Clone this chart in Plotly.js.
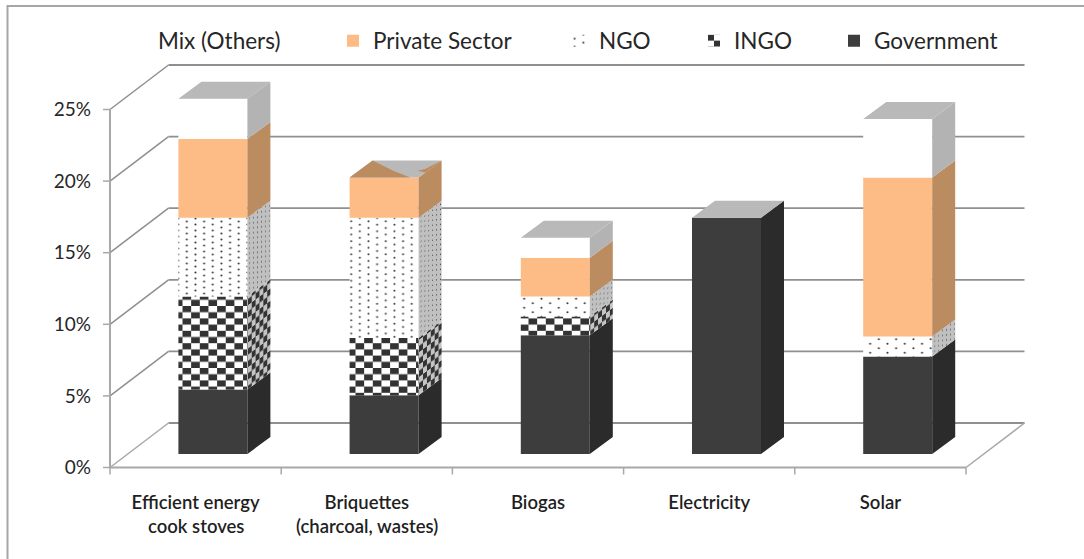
<!DOCTYPE html>
<html>
<head>
<meta charset="utf-8">
<script src="https://cdn.plot.ly/plotly-3.0.1.min.js"></script>
<style>html,body{margin:0;padding:0;background:#fff}</style>
</head>
<body>
<div id="chart" style="width:1084px;height:559px"></div>
<script>
// Stacked shares (%) per technology, bottom segment first.
const labelLine1 = ['Efficient energy', 'Briquettes', 'Biogas', 'Electricity', 'Solar'];
const labelLine2 = ['cook stoves', '(charcoal, wastes)', '', '', ''];
const government = [4.5, 4.1, 8.3, 16.5, 6.8];
const ingo       = [6.5, 4.0, 1.3, 0, 0];
const ngo        = [5.5, 8.4, 1.4, 0, 1.4];
const privateSec = [5.5, 2.8, 2.7, 0, 11.1];
const mixOthers  = [2.8, 0, 1.4, 0, 4.1];
const yTicks = [0, 5, 10, 15, 20, 25];
const yTickText = ['0%', '5%', '10%', '15%', '20%', '25%'];

// Scales of the plot area.
const W = 1084, H = 559;
const pxPerCat = 171.2, pxPerPct = 14.32;
const plotL = 96, plotR = 1032, plotT = 58, plotB = 482;
const zeroX = 110, zeroY = 467.5;
const xr = [-0.5 - (zeroX - plotL) / pxPerCat, -0.5 + (plotR - zeroX) / pxPerCat];
const yr = [-(plotB - zeroY) / pxPerPct, (zeroY - plotT) / pxPerPct];
const px = n => n / pxPerCat, pct = n => n / pxPerPct;

// Oblique projection used for the depth of the walls and the columns.
const wallDx = px(58.5), wallDy = pct(44.5);
const barShiftX = px(17.3), barShiftY = pct(13.5);
const barDepthX = px(23), barDepthY = pct(17);
const barWidth = px(69);
const cats = labelLine1.map((_, i) => i);
const catEnd = cats.length - 0.5;

// Pattern sizes tell the front fills from the side-face fills when they are restyled below.
// NGO dots run tighter on the two tallest NGO segments.
const frontSize = 10, sideSize = 11;
const ngoDotPitch = [6, 6.6, 9, 9, 9];
const series = [
  {name: 'Government',     v: government, front: '#3d3d3d', side: '#2b2b2b', legend: 'legend5', lx: 834},
  {name: 'INGO',           v: ingo,       front: '#ffffff', side: '#c4c4c4', legend: 'legend4', lx: 694,
   pat: {shape: 'x', fgcolor: '#333333', size: frontSize}},
  {name: 'NGO',            v: ngo,        front: '#ffffff', side: '#c0c0c0', legend: 'legend3', lx: 559,
   pat: {shape: '.', fgcolor: '#3a3a3a', size: ngoDotPitch}},
  {name: 'Private Sector', v: privateSec, front: '#fdbb85', side: '#bb8c60', legend: 'legend2', lx: 333},
  {name: 'Mix (Others)',   v: mixOthers,  front: '#ffffff', side: '#b3b3b3', legend: 'legend',  lx: 118}
];

const traces = [];
const sides = [];
const running = cats.map(() => 0);
series.forEach(s => {
  const bases = running.map(r => r + barShiftY);
  traces.push({
    type: 'bar', name: s.name, legend: s.legend,
    x: cats.map(c => c + barShiftX), y: s.v, base: bases, width: barWidth,
    marker: {
      color: s.front, line: {width: 0},
      pattern: s.pat ? {shape: s.pat.shape, fgcolor: s.pat.fgcolor, bgcolor: '#ffffff', size: s.pat.size, solidity: 0.3} : {shape: ''}
    },
    hoverinfo: 'skip'
  });
  // Right-hand face of each segment.
  const xs = [], ys = [];
  cats.forEach(c => {
    if (s.v[c] <= 0) return;
    const xa = c + barShiftX + barWidth / 2, xb = xa + barDepthX;
    const y0 = bases[c], y1 = y0 + s.v[c];
    xs.push(xa, xb, xb, xa, xa, null);
    ys.push(y0, y0 + barDepthY, y1 + barDepthY, y1, y0, null);
  });
  const side = {
    type: 'scatter', mode: 'none', x: xs, y: ys, fill: 'toself', fillcolor: s.side,
    showlegend: false, hoverinfo: 'skip'
  };
  if (s.pat) side.fillpattern = {shape: s.pat.shape, fgcolor: s.pat.fgcolor, bgcolor: s.side, size: sideSize, solidity: 0.3};
  sides.push(side);
  cats.forEach(c => { running[c] += s.v[c]; });
});

// Point on a column's top face: u across the width, v into the depth.
const topPoint = (c, u, v) => [
  c + barShiftX - barWidth / 2 + u * barWidth + v * barDepthX,
  running[c] + barShiftY + v * barDepthY
];
const topFace = {xs: [], ys: []};
cats.forEach(c => {
  [[0, 0], [1, 0], [1, 1], [0, 1], [0, 0]].forEach(p => {
    const q = topPoint(c, p[0], p[1]);
    topFace.xs.push(q[0]); topFace.ys.push(q[1]);
  });
  topFace.xs.push(null); topFace.ys.push(null);
});
traces.push(...sides);
traces.push({type: 'scatter', mode: 'none', x: topFace.xs, y: topFace.ys, fill: 'toself',
  fillcolor: '#b9b9b9', showlegend: false, hoverinfo: 'skip'});

// The briquettes column has no mix segment, so its top shows the private-sector colour in part.
const patchFaces = [
  [[0, 0], [0.88, 0], [0.5, 0.4], [0, 1], [0, 0]],
  [[0.85, 0.4], [0.93, 0.5], [1, 1], [1, 0.3], [0.85, 0.4]]
];
const patch = {xs: [], ys: []};
patchFaces.forEach(face => {
  face.forEach(p => {
    const q = topPoint(1, p[0], p[1]);
    patch.xs.push(q[0]); patch.ys.push(q[1]);
  });
  patch.xs.push(null); patch.ys.push(null);
});
traces.push({type: 'scatter', mode: 'none', x: patch.xs, y: patch.ys, fill: 'toself',
  fillcolor: '#bb8c60', showlegend: false, hoverinfo: 'skip'});

// Walls, floor, axis lines and tick marks sit beneath every column.
const gridColor = '#8f8f8f', axisColor = '#a8a8a8';
const line = (x0, y0, x1, y1, color, width) => ({
  type: 'line', layer: 'below', xref: 'x', yref: 'y', x0, y0, x1, y1, line: {color, width}
});
const shapes = [];
yTicks.forEach(t => {
  if (t > 0) shapes.push(line(-0.5, t, -0.5 + wallDx, t + wallDy, gridColor, 1.5));
  shapes.push(line(-0.5 + wallDx, t + wallDy, catEnd + wallDx, t + wallDy, gridColor, 1.8));
  shapes.push(line(-0.5 - px(7), t, -0.5, t, axisColor, 1.5));
});
shapes.push(line(-0.5, 0, -0.5 + wallDx, wallDy, axisColor, 1.5));
shapes.push(line(catEnd, 0, catEnd + wallDx, wallDy, axisColor, 1.5));
shapes.push(line(-0.5, 0, -0.5, 25, axisColor, 2));
shapes.push(line(-0.5, 0, catEnd, 0, axisColor, 2));
for (let c = 0; c <= cats.length; c++) {
  shapes.push(line(c - 0.5, 0, c - 0.5, -pct(7), axisColor, 1.5));
}
// Outer frame of the chart; its right and bottom edges run past the page.
const fx = p => (p - plotL) / (plotR - plotL), fy = p => (plotB - p) / (plotB - plotT);
shapes.push({type: 'rect', layer: 'below', xref: 'paper', yref: 'paper',
  x0: fx(7.5), x1: fx(W + 10), y0: fy(H + 10), y1: fy(6), line: {color: '#a6a6a6', width: 2}, fillcolor: 'rgba(0,0,0,0)'});

const fontFamily = 'Lato, "Open Sans", sans-serif';
const labelFont = {family: fontFamily, size: 18.5, color: '#1f1f1f', weight: 600};
const legendBox = lx => ({
  orientation: 'h', x: fx(lx), xanchor: 'left', y: fy(41), yanchor: 'middle',
  bgcolor: 'rgba(0,0,0,0)', font: {family: fontFamily, size: 22.5, color: '#262626'}
});
const layout = {
  width: W, height: H, paper_bgcolor: '#ffffff', plot_bgcolor: '#ffffff',
  margin: {l: plotL, r: W - plotR, t: plotT, b: H - plotB, pad: 0},
  barmode: 'overlay', showlegend: true,
  xaxis: {
    range: xr, tickmode: 'array', tickvals: cats, ticktext: labelLine1, ticks: '',
    showgrid: false, zeroline: false, showline: false,
    tickfont: labelFont, ticklabelstandoff: 7
  },
  yaxis: {
    range: yr, tickmode: 'array', tickvals: yTicks, ticktext: yTickText, ticks: '',
    showgrid: false, zeroline: false, showline: false,
    tickfont: {family: fontFamily, size: 19, color: '#262626'}, ticklabelstandoff: 4
  },
  shapes,
  annotations: labelLine2.map((t, i) => ({
    text: t, xref: 'x', yref: 'paper', x: i, y: fy(526), yanchor: 'middle', showarrow: false,
    font: labelFont
  })).filter(a => a.text)
};
series.forEach(s => { layout[s.legend] = legendBox(s.lx); });

Plotly.newPlot('chart', traces, layout, {staticPlot: true, displayModeBar: false}).then(gd => {
  // Plotly has no checker fill: turn its cross pattern into one, and set the dot lattice.
  const sideMatrix = 'matrix(0.45 -0.333 0 1 0 0)';
  const periodX = 17.3, checkY = 12.4, sideDotY = 5;
  gd.querySelectorAll('pattern').forEach(p => {
    const w = parseFloat(p.getAttribute('width'));
    const isSide = Math.abs(w - sideSize) < 0.01 || Math.abs(w - sideSize * Math.SQRT2) < 0.01;
    const path = p.querySelector('path');
    const dot = p.querySelector('circle');
    let periodY;
    if (path) {
      periodY = checkY;
      const a = periodX / 2, b = checkY / 2;
      path.setAttribute('d', `M0,0h${a}v${b}h${-a}zM${a},${b}h${a}v${b}h${-a}z`);
      path.style.fill = path.getAttribute('stroke') || path.style.stroke;
      path.setAttribute('fill', path.style.fill);
      path.setAttribute('stroke', 'none');
      path.style.stroke = 'none';
    } else if (dot) {
      periodY = isSide ? sideDotY : w;
      const r = isSide ? 0.85 : 1.05;
      dot.setAttribute('cx', periodX / 4); dot.setAttribute('cy', periodY / 4); dot.setAttribute('r', r);
      const second = dot.cloneNode(true);
      second.setAttribute('cx', 3 * periodX / 4); second.setAttribute('cy', 3 * periodY / 4);
      p.appendChild(second);
    } else {
      return;
    }
    p.setAttribute('width', periodX); p.setAttribute('height', periodY);
    const bg = p.querySelector('rect');
    if (bg) { bg.setAttribute('width', periodX); bg.setAttribute('height', periodY); }
    if (isSide) p.setAttribute('patternTransform', sideMatrix);
    else p.removeAttribute('patternTransform');
  });
});
</script>
</body>
</html>
